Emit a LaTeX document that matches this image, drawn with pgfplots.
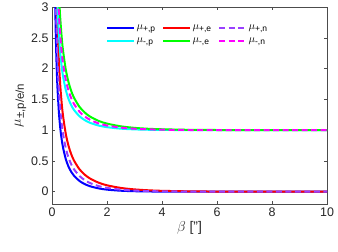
\documentclass[border=0pt]{standalone}
\usepackage{pgfplots}
\pgfplotsset{compat=1.18}
\usepackage{fontspec}
\setmainfont{Liberation Sans}
\definecolor{mpurple}{rgb}{0.6,0.25,1}
\definecolor{mcyan}{rgb}{0,1,1}
\definecolor{mgreen}{rgb}{0,1,0}
\definecolor{mmag}{rgb}{1,0,1}
\newcommand{\lsub}[1]{\raisebox{-2.2bp}{\fontsize{8.5}{9}\selectfont #1}}
\begin{document}
\begin{tikzpicture}
\begin{axis}[
  at={(0,0)}, anchor=south west,
  scale only axis, width=275bp, height=197bp,
  xmin=0, xmax=10, ymin=-0.2, ymax=3,
  xtick={0,2,4,6,8,10},
  ytick={0,0.5,1,1.5,2,2.5,3},
  yticklabels={0,0.5,1,1.5,2,2.5,3},
  tick align=inside,
  major tick length=3bp,
  axis line style={draw=black!70, line width=0.5pt},
  every tick/.style={black!70, line width=0.5pt},
  tick label style={font=\fontsize{12.5}{14}\selectfont, text=black!85},
  /pgf/number format/assume math mode=true,
  xlabel={$\beta$ ["]},
  ylabel={\fontsize{14}{16}\selectfont$\mu$\raisebox{-3bp}{\fontsize{11.5}{12}\selectfont ±,p/e/n}},
  label style={font=\fontsize{14}{16}\selectfont, text=black!85},
  ylabel style={yshift=-2bp},
  xlabel style={yshift=2bp},
  legend columns=3,
  legend cell align=left,
  legend style={at={(0.185,0.93)}, anchor=north west, draw=none, fill=none,
    font=\fontsize{11}{12}\selectfont, row sep=4bp, column sep=0bp,
    nodes={inner sep=1.5bp, text width=24bp}},
  legend image code/.code={\draw[#1] (0bp,0bp) -- (27bp,0bp);},
  every axis plot/.append style={line width=2pt},
]
\addplot[blue, smooth] coordinates {
(0.08,4.59) (0.1,3.615) (0.12,2.969) (0.14,2.507) (0.16,2.161) (0.18,1.893) (0.2,1.678)
(0.25,1.292) (0.3,1.036) (0.35,0.855) (0.4,0.719) (0.5,0.531) (0.6,0.408)
(0.7,0.322) (0.8,0.259) (1.0,0.174) (1.2,0.121) (1.4,0.0861) (1.7,0.0530)
(2.0,0.0333) (2.5,0.0157) (3,0.0075) (3.5,0.0036) (4,0.0018) (5,0.0004)
(6,0.0001) (8,0) (10,0)};
\addlegendentry{$\mu$\lsub{+,p}}
\addplot[red, smooth] coordinates {
(0.1,5.71) (0.15,3.716) (0.18,3.054) (0.2,2.723) (0.25,2.127) (0.3,1.731)
(0.35,1.448) (0.4,1.237) (0.5,0.942) (0.6,0.746) (0.7,0.608) (0.8,0.506)
(1.0,0.364) (1.2,0.273) (1.4,0.2095) (1.7,0.1456) (2.0,0.1038) (2.5,0.0613)
(3,0.0372) (3.5,0.0229) (4,0.0142) (5,0.0056) (6,0.0022) (7,0.0009)
(8,0.0004) (10,0.0001)};
\addlegendentry{$\mu$\lsub{+,e}}
\addplot[mpurple, dash pattern=on 6bp off 3.5bp, smooth] coordinates {
(0.1,4.51) (0.12,3.716) (0.14,3.148) (0.16,2.723) (0.2,2.127) (0.25,1.651)
(0.3,1.335) (0.35,1.110) (0.4,0.942) (0.5,0.708) (0.6,0.553) (0.7,0.445)
(0.8,0.364) (1.0,0.2549) (1.2,0.1849) (1.4,0.1374) (1.7,0.0907) (2.0,0.0613)
(2.5,0.0329) (3,0.0180) (3.5,0.0100) (4,0.0056) (5,0.0018) (6,0.0006)
(8,0.0001) (10,0)};
\addlegendentry{$\mu$\lsub{+,n}}
\addplot[mcyan, smooth] coordinates {
(0.15,3.787) (0.2,3.021) (0.22,2.812) (0.25,2.563) (0.3,2.258) (0.35,2.041)
(0.4,1.880) (0.5,1.655) (0.6,1.508) (0.7,1.404) (0.8,1.328) (1.0,1.225)
(1.2,1.160) (1.4,1.116) (1.7,1.074) (2.0,1.048) (2.5,1.024) (3,1.012)
(3.5,1.006) (4,1.003) (5,1.001) (6,1.0002) (8,1) (10,1)};
\addlegendentry{$\mu$\lsub{-,p}}
\addplot[mgreen, smooth] coordinates {
(0.2,3.868) (0.25,3.238) (0.28,2.969) (0.3,2.819) (0.35,2.521) (0.4,2.298)
(0.5,1.987) (0.6,1.781) (0.7,1.635) (0.8,1.527) (1.0,1.378) (1.2,1.282)
(1.4,1.216) (1.7,1.149) (2.0,1.106) (2.5,1.062) (3,1.037) (3.5,1.022)
(4,1.014) (5,1.005) (6,1.002) (7,1.001) (8,1.0003) (10,1)};
\addlegendentry{$\mu$\lsub{-,e}}
\addplot[mmag, dash pattern=on 6bp off 3.5bp, smooth] coordinates {
(0.18,3.740) (0.2,3.438) (0.25,2.896) (0.3,2.535) (0.35,2.278) (0.4,2.086)
(0.5,1.818) (0.6,1.642) (0.7,1.517) (0.8,1.425) (1.0,1.299) (1.2,1.219)
(1.4,1.164) (1.7,1.109) (2.0,1.075) (2.5,1.041) (3,1.023) (3.5,1.013)
(4,1.007) (5,1.002) (6,1.001) (8,1) (10,1)};
\addlegendentry{$\mu$\lsub{-,n}}
\end{axis}
\pgfresetboundingbox
\path (-52bp,-48bp) rectangle (286bp,204bp);
\end{tikzpicture}
\end{document}
